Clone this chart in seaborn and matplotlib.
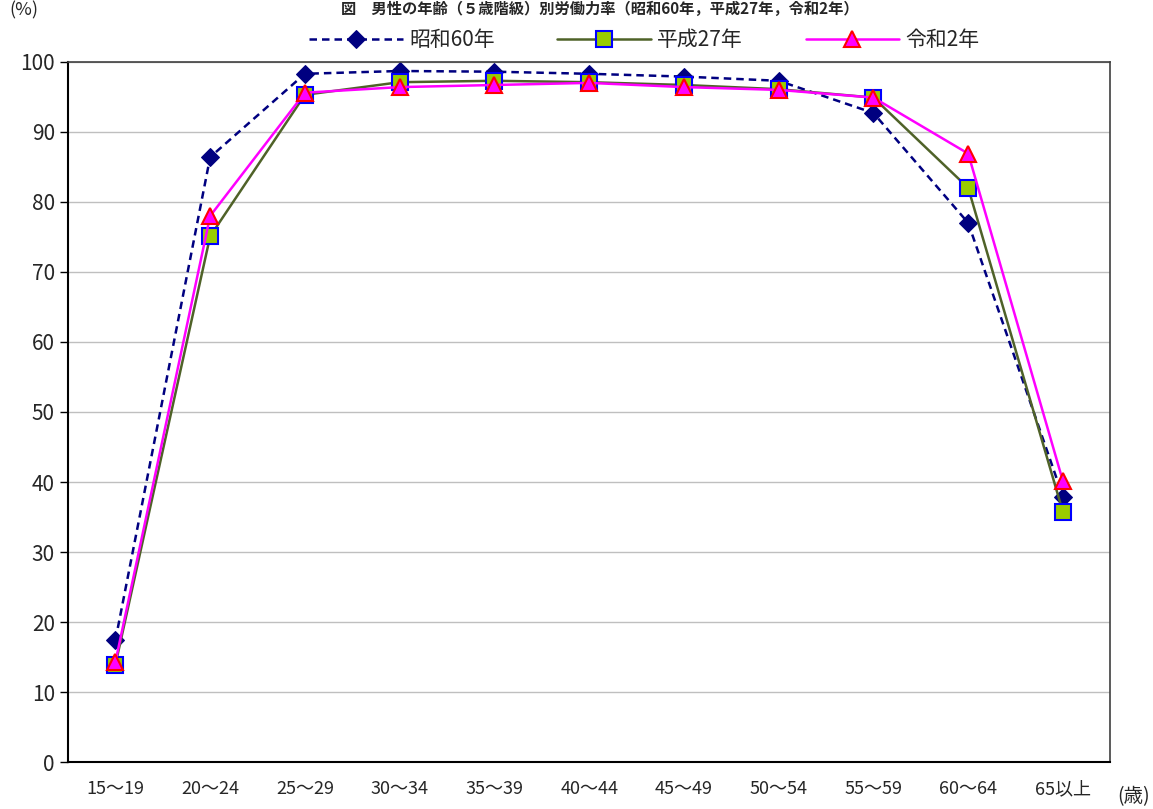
import numpy as np
import pandas as pd
import seaborn as sns
from matplotlib import pyplot as plt

# age groups and labour force participation rates (%)
ages = ['15～19', '20～24', '25～29', '30～34', '35～39', '40～44',
        '45～49', '50～54', '55～59', '60～64', '65以上']
s60 = [17.4, 86.4, 98.3, 98.7, 98.6, 98.3, 97.9, 97.3, 92.7, 77.0, 37.9]
h27 = [13.9, 75.1, 95.3, 97.1, 97.3, 97.1, 96.7, 96.1, 94.9, 82.0, 35.7]
r2 = [14.3, 78.0, 95.6, 96.4, 96.7, 97.0, 96.4, 96.0, 94.9, 86.9, 40.1]
series = ['昭和60年', '平成27年', '令和2年']

sns.set_style('white')
plt.rcParams['font.family'] = ['Noto Sans CJK JP', 'DejaVu Sans']

fig = plt.figure(figsize=(11.53, 8.09), dpi=100)
ax = fig.add_axes([0.059, 0.058, 0.904, 0.8655])

styles = {
    '昭和60年': dict(color='#000080', linestyle=(0, (3, 2)), marker='D', markersize=9,
                   markerfacecolor='#000080', markeredgecolor='#000080', lw=1.8),
    '平成27年': dict(color='#4F6228', linestyle='-', marker='s', markersize=11,
                   markerfacecolor='#99CC00', markeredgecolor='#0000FF', markeredgewidth=1.5, lw=1.8),
    '令和2年': dict(color='#FF00FF', linestyle='-', marker='^', markersize=12,
                  markerfacecolor='#FF00FF', markeredgecolor='#FF0000', markeredgewidth=1.5, lw=1.8),
}
x = np.arange(len(ages))
for name, vals in zip(series, [s60, h27, r2]):
    sns.lineplot(x=x, y=vals, ax=ax, label=name, **styles[name])

ax.set_ylim(0, 100)
ax.set_xlim(-0.5, len(ages) - 0.5)
ax.set_yticks(range(0, 101, 10))
ax.yaxis.grid(True, color='#BFBFBF', lw=1)
ax.set_xticks(np.arange(-0.5, len(ages), 1))
ax.set_xticklabels([])
ax.set_xticks(x, minor=True)
ax.set_xticklabels(ages, minor=True, fontsize=13)
ax.tick_params(axis='x', which='major', direction='in', length=7, color='#808080', width=1)
ax.tick_params(axis='x', which='minor', length=0, pad=13)
ax.tick_params(axis='y', direction='out', length=6, width=1, labelsize=15, color='black', left=True)
for side in ['left', 'bottom']:
    ax.spines[side].set_color('black')
    ax.spines[side].set_linewidth(1.5)
for side in ['top', 'right']:
    ax.spines[side].set_color('#404040')
    ax.spines[side].set_linewidth(1.2)

ax.legend(loc='upper center', bbox_to_anchor=(0.553, 1.074), ncol=3, frameon=False,
          fontsize=15, handlelength=4.5, columnspacing=3.0, handletextpad=0.3)

fig.text(0.008, 0.998, '(%)', fontsize=13, ha='left', va='top')
fig.text(0.52, 0.999, '図　男性の年齢（５歳階級）別労働力率（昭和60年，平成27年，令和2年）',
         fontsize=11, ha='center', va='top', fontweight='bold')
fig.text(0.983, 0.015, '(歳)', fontsize=14, ha='center', va='center')

fig.savefig('out.png', dpi=100)
